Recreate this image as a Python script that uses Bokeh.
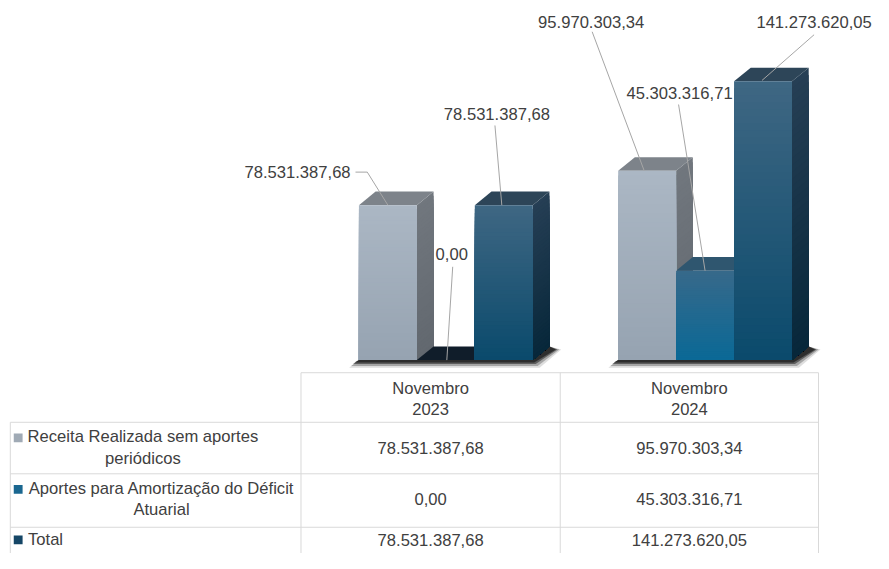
import numpy as np
from bokeh.plotting import figure
from bokeh.models import Range1d, ColumnDataSource
from bokeh.embed import file_html
from bokeh.resources import INLINE
from bokeh.core.properties import value

# ---------------- data ----------------
categories = ["Novembro 2023", "Novembro 2024"]
series_names = ["Receita Realizada sem aportes periódicos",
                "Aportes para Amortização do Déficit Atuarial",
                "Total"]
receita_realizada = [78531387.68, 95970303.34]
aportes_amortizacao = [0.00, 45303316.71]
total = [78531387.68, 141273620.05]
series_values = [receita_realizada, aportes_amortizacao, total]

# ---------------- style ----------------
W, H = 873, 553
REF_W, REF_H = 889.0, 569.0        # design space
SX, SY = W / REF_W, H / REF_H
FONT = value("Liberation Sans")
TXT = "#404040"
GRID = "#d9d9d9"
LEADER = "#a6a6a6"
FS = "16.6px"
LINE_H = 1.15

FRONT_TOP = ["#abb7c4", "#37698a", "#3f6783"]
FRONT_BOT = ["#96a3b1", "#0a6996", "#0a4a6c"]
SIDE_TOP = ["#71777e", "#1d4a64", "#263f55"]
SIDE_BOT = ["#62686f", "#0b3a55", "#07273a"]
TOP_FACE = ["#7d838a", "#2f566f", "#2d4558"]
ZERO_TOP = "#101d2a"
KEY = ["#a0aab5", "#1a6790", "#154666"]

# layout in design-space pixels
BASE_Y = 370.0       # y of the bar baseline
PX_PER_M = 2.03      # pixels per million
GROUP0_X = 453.5     # x of first category centre
GROUP_STEP = 264.0   # pixels between category centres
BAR_PX = 59.0
DEPTH_X, DEPTH_Y = 17.0, 14.0
N_STRIPS = 40

# label placement per (category, series): text offset (px, y down), align, leader points
LABEL_STYLE = {
    (0, 0): ((-38, -34), "right", [(-33, -34), (-21, -34), (0, 0)]),
    (0, 1): ((6, -109), "center", [(7, -96), (1, 0)]),
    (0, 2): ((-7, -94), "center", [(-9, -82), (-2, 0)]),
    (1, 0): ((-57, -153), "center", [(-56, -143), (-3, 0)]),
    (1, 1): ((-26, -183), "center", [(-27, -171), (0, 0)]),
    (1, 2): ((52, -61), "center", [(52, -48), (-1, -1)]),
}

# table layout (design-space pixels)
COL_EDGES = [10, 306, 570, 833]
ROW_EDGES = [383, 434, 487, 542, 600]
HEADER_Y = 410
ROW_Y = [460, 513, 555]
KEY_Y = [450, 503, 555]
KEY_X = 18
ROW_WRAP = [4, 5, None]
ROW_TEXT_X = [145, 164, 28]


def fmt_br(v):
    s = f"{v:,.2f}"
    return s.replace(",", "X").replace(".", ",").replace("X", ".")


def lerp(c1, c2, t):
    a = np.array([int(c1[i:i + 2], 16) for i in (1, 3, 5)], float)
    b = np.array([int(c2[i:i + 2], 16) for i in (1, 3, 5)], float)
    c = a + (b - a) * t
    return "#%02x%02x%02x" % tuple(int(round(x)) for x in c)


UX = 1.0 / GROUP_STEP
UY = 1.0 / PX_PER_M
BW = BAR_PX * UX
DX = DEPTH_X * UX
DY = DEPTH_Y * UY

p = figure(width=W, height=H, output_backend="svg", toolbar_location=None,
           x_axis_type=None, y_axis_type=None, min_border=0,
           x_range=Range1d((0 - GROUP0_X) / GROUP_STEP, (REF_W - GROUP0_X) / GROUP_STEP),
           y_range=Range1d(-(REF_H - BASE_Y) / PX_PER_M, BASE_Y / PX_PER_M))
p.grid.visible = False
p.outline_line_color = None
p.background_fill_color = "white"
p.border_fill_color = "white"
p.extra_x_ranges = {"px": Range1d(0, REF_W)}
p.extra_y_ranges = {"px": Range1d(REF_H, 0)}

n_series = len(series_values)

# ---- shadows under each category ----
sh_xs, sh_ys, sh_alpha = [], [], []
for g in range(len(categories)):
    L = g - 1.5 * BW
    R = g + 1.5 * BW
    for grow, a in ((7, 0.15), (5, 0.3), (3, 0.55), (1.5, 0.8)):
        sh_xs.append([L - (3 + grow) * UX, R + grow * UX, R + DX + (grow + 5) * UX, R + DX, L])
        sh_ys.append([-(1 + grow) * UY, -(1 + grow) * UY, DY - 3 * UY, DY, 0])
        sh_alpha.append(a)
p.patches(xs=sh_xs, ys=sh_ys, fill_color="#222222", fill_alpha=sh_alpha, line_color=None)

side_xs, side_ys, side_c = [], [], []
top_xs, top_ys, top_c = [], [], []
fr_l, fr_r, fr_t, fr_c = [], [], [], []
lab_x, lab_y, lab_t, lab_xo, lab_yo, lab_al = [], [], [], [], [], []
ld_xs, ld_ys = [], []

for g in range(len(categories)):
    for j in range(n_series):
        v = series_values[j][g] / 1e6
        xc = g + (j - 1) * BW
        L, R = xc - BW / 2, xc + BW / 2
        # side face (cumulative strips, top colour first)
        for i in range(N_STRIPS, 0, -1):
            y1 = v * i / N_STRIPS
            t = (i - 0.5) / N_STRIPS
            side_xs.append([R, R + DX, R + DX, R])
            side_ys.append([0, DY, y1 + DY, y1])
            side_c.append(lerp(SIDE_BOT[j], SIDE_TOP[j], t))
        # top face
        top_xs.append([L, R, R + DX, L + DX])
        top_ys.append([v, v, v + DY, v + DY])
        top_c.append(ZERO_TOP if v == 0 else TOP_FACE[j])
        # front face
        if v > 0:
            for i in range(N_STRIPS, 0, -1):
                fr_l.append(L); fr_r.append(R)
                fr_t.append(v * i / N_STRIPS)
                fr_c.append(lerp(FRONT_BOT[j], FRONT_TOP[j], (i - 0.5) / N_STRIPS))
        # label + leader
        (tox, toy), al, pts = LABEL_STYLE[(g, j)]
        lab_x.append(xc); lab_y.append(v)
        lab_t.append(fmt_br(series_values[j][g]))
        lab_xo.append(tox * SX); lab_yo.append(toy * SY); lab_al.append(al)
        ld_xs.append([xc + px * UX for px, py in pts])
        ld_ys.append([v - py * UY for px, py in pts])

p.patches(xs=side_xs, ys=side_ys, fill_color=side_c, line_color=None)
p.patches(xs=top_xs, ys=top_ys, fill_color=top_c, line_color=None)
p.quad(left=fr_l, right=fr_r, bottom=0, top=fr_t, fill_color=fr_c, line_color=None)

p.multi_line(xs=ld_xs, ys=ld_ys, line_color=LEADER, line_width=1)
lab_src = ColumnDataSource(dict(x=lab_x, y=lab_y, text=lab_t, xo=lab_xo, yo=lab_yo, al=lab_al))
p.text(x="x", y="y", text="text", x_offset="xo", y_offset="yo", text_align="al",
       text_baseline="middle", text_font=FONT, text_font_size=FS, text_color=TXT,
       source=lab_src)

# ---- data table ----
gx0, gx1, gy0, gy1 = [], [], [], []
gx0.append(COL_EDGES[1]); gx1.append(COL_EDGES[-1]); gy0.append(ROW_EDGES[0]); gy1.append(ROW_EDGES[0])
for cx in COL_EDGES[1:]:
    gx0.append(cx); gx1.append(cx); gy0.append(ROW_EDGES[0]); gy1.append(ROW_EDGES[-1])
gx0.append(COL_EDGES[0]); gx1.append(COL_EDGES[0]); gy0.append(ROW_EDGES[1]); gy1.append(ROW_EDGES[-1])
for ry in ROW_EDGES[1:-1]:
    gx0.append(COL_EDGES[0]); gx1.append(COL_EDGES[-1]); gy0.append(ry); gy1.append(ry)
p.segment(x0=gx0, y0=gy0, x1=gx1, y1=gy1, line_color=GRID, line_width=1,
          x_range_name="px", y_range_name="px")

col_c = [(COL_EDGES[k] + COL_EDGES[k + 1]) / 2 for k in range(1, len(COL_EDGES) - 1)]
p.text(x=col_c, y=[HEADER_Y] * len(categories),
       text=[c.replace(" ", "\n") for c in categories],
       text_align="center", text_baseline="middle", text_line_height=LINE_H,
       text_font=FONT, text_font_size=FS, text_color=TXT,
       x_range_name="px", y_range_name="px")

row_txt, row_al = [], []
for j, name in enumerate(series_names):
    words = name.split(" ")
    k = ROW_WRAP[j]
    if k is None:
        row_txt.append(name); row_al.append("left")
    else:
        row_txt.append(" ".join(words[:k]) + "\n" + " ".join(words[k:])); row_al.append("center")
p.text(x=ROW_TEXT_X, y=ROW_Y, text=row_txt, text_align=row_al, text_baseline="middle",
       text_line_height=LINE_H, text_font=FONT, text_font_size=FS, text_color=TXT,
       x_range_name="px", y_range_name="px")
p.scatter(x=[KEY_X] * n_series, y=KEY_Y, marker="square", size=9 * SX, fill_color=KEY,
          line_color=None, x_range_name="px", y_range_name="px")

cell_x, cell_y, cell_t = [], [], []
for j in range(n_series):
    for g in range(len(categories)):
        cell_x.append(col_c[g]); cell_y.append(ROW_Y[j])
        cell_t.append(fmt_br(series_values[j][g]))
p.text(x=cell_x, y=cell_y, text=cell_t, text_align="center", text_baseline="middle",
       text_font=FONT, text_font_size=FS, text_color=TXT,
       x_range_name="px", y_range_name="px")

open("out.html", "w").write(file_html(p, INLINE))
